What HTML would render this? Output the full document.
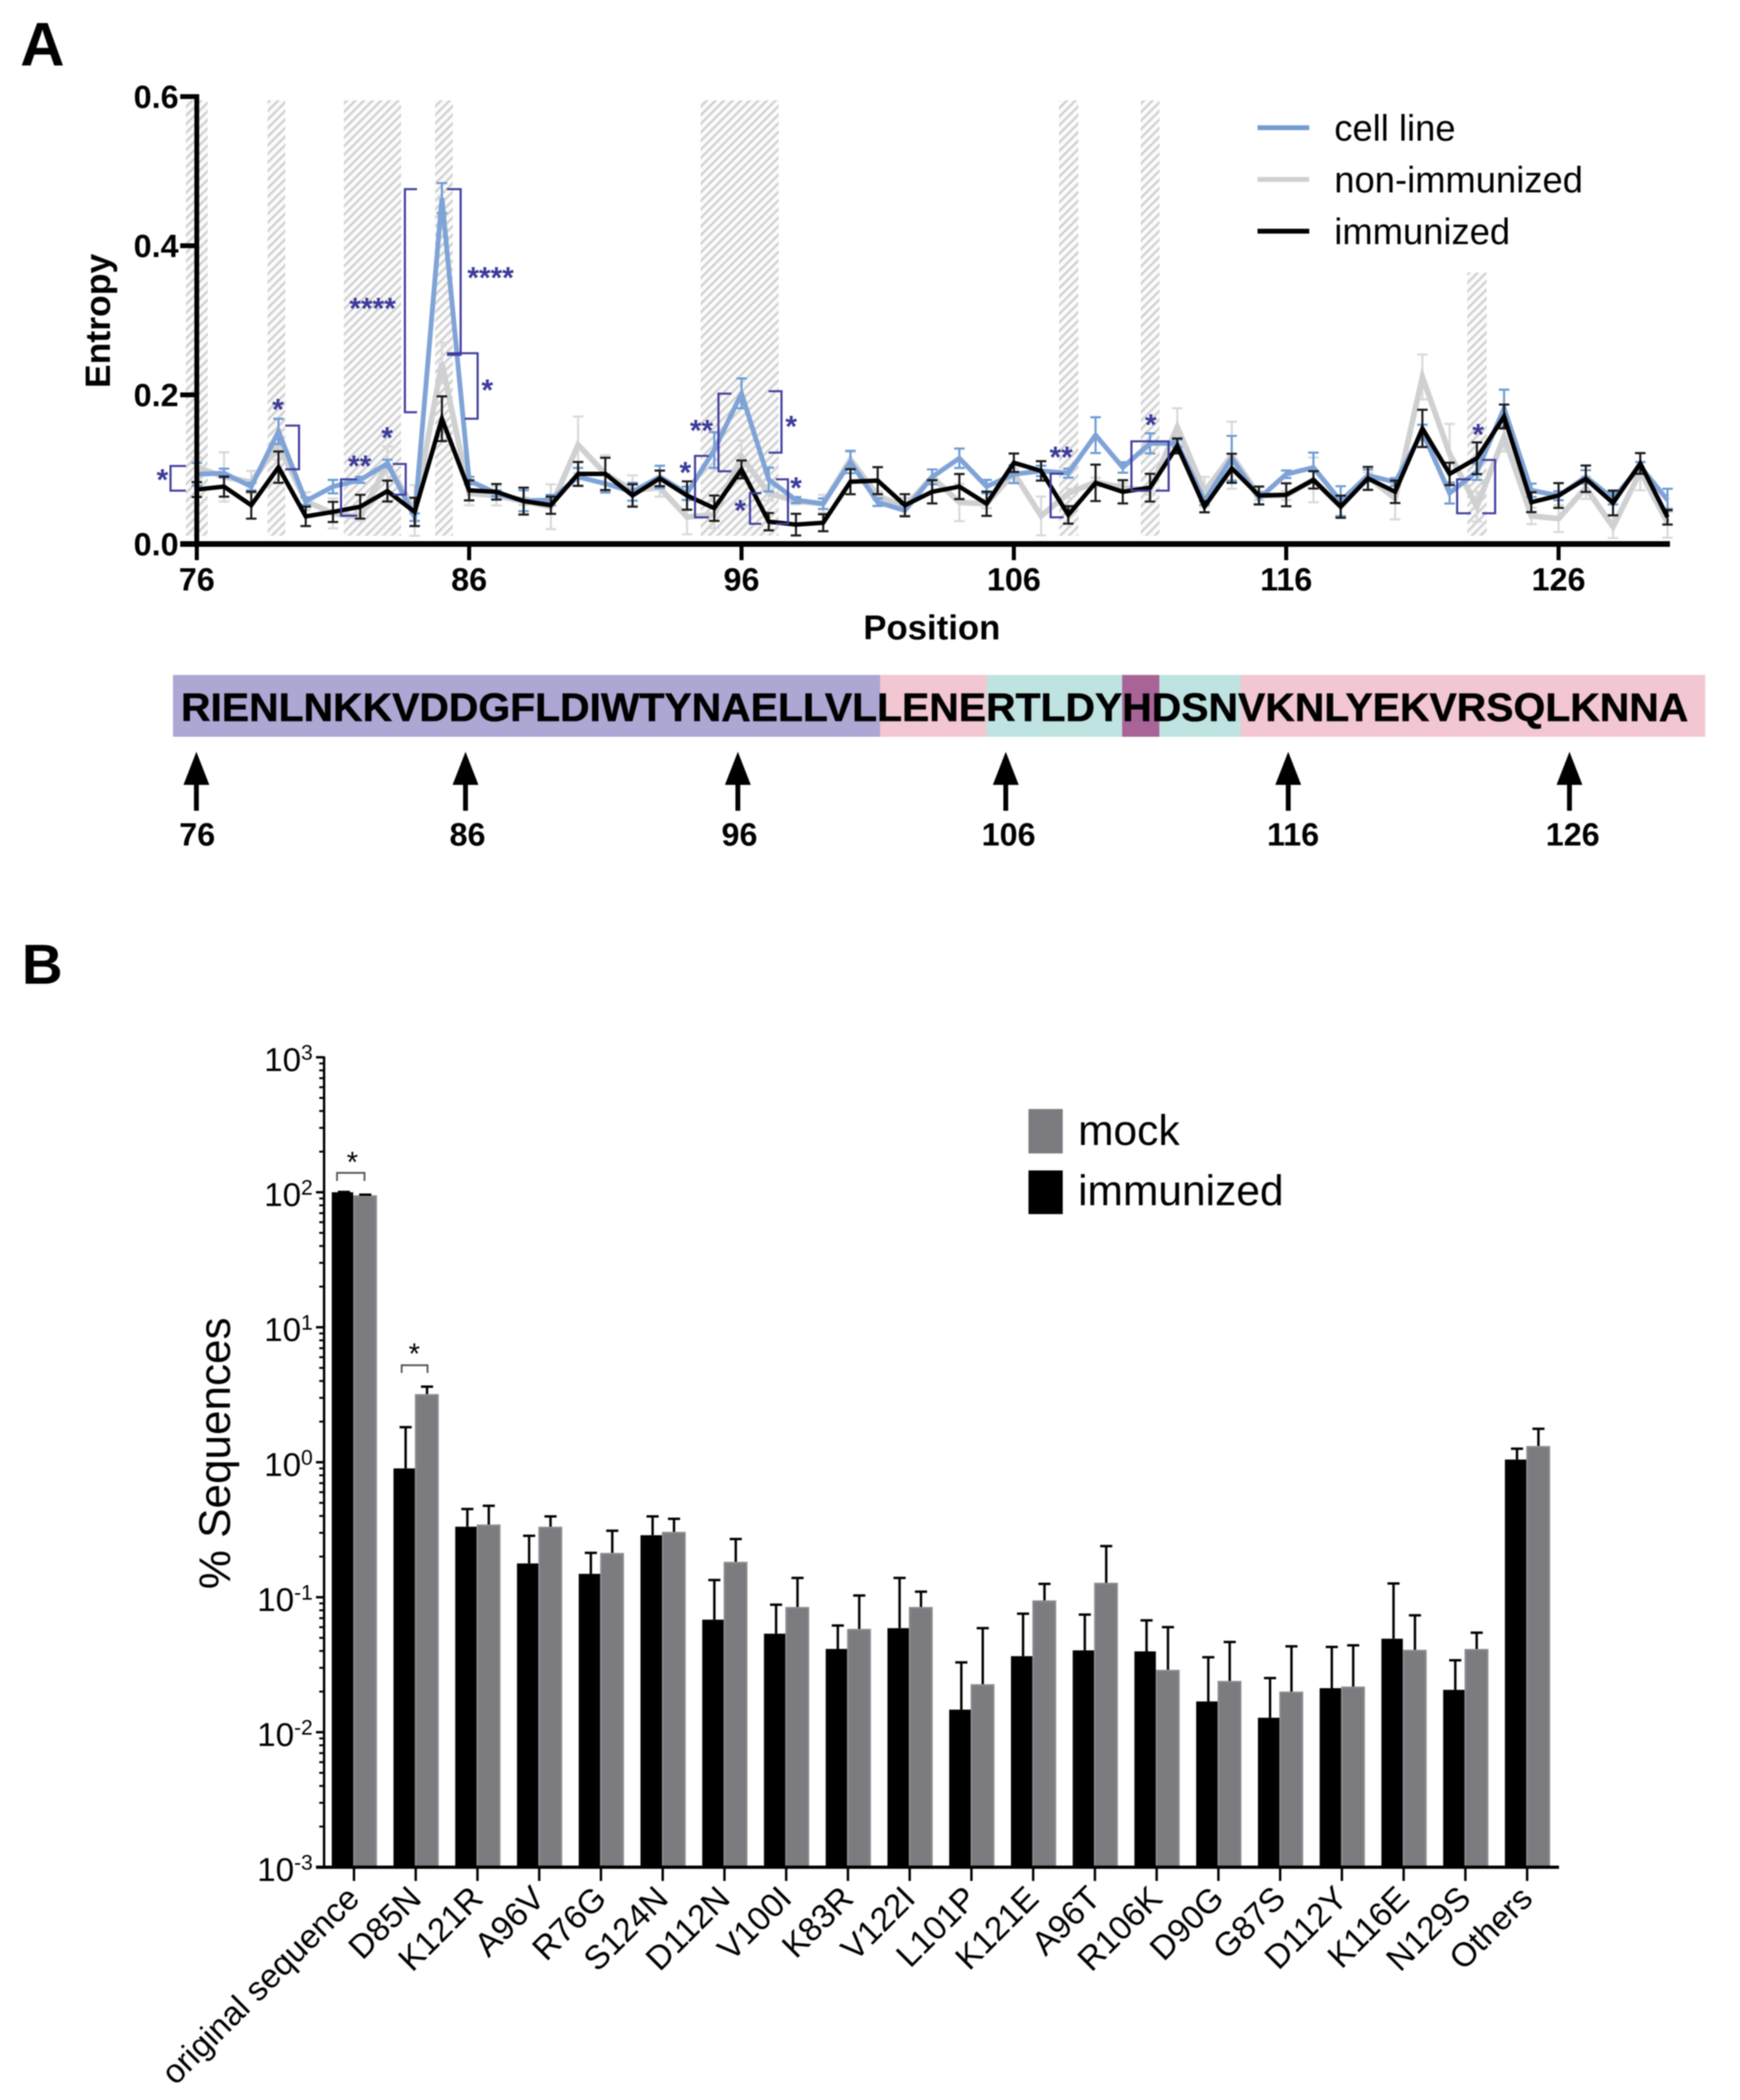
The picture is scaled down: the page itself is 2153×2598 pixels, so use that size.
<!DOCTYPE html>
<html lang="en">
<head>
<meta charset="utf-8">
<title>Entropy and sequence variants</title>
<style>
html,body{margin:0;padding:0;background:#fff;}
#figure{display:block;width:2153px;height:2598px;filter:blur(0.8px);font-family:"Liberation Sans",sans-serif;}
.stars{font:bold 37px "Liberation Sans",sans-serif;fill:#3b3a98;text-anchor:middle;transform:translateY(-3px);}
.bk{fill:none;stroke:#3f3c9c;stroke-width:2.6;}
.arrow-label{font-size:40px;font-weight:bold;text-anchor:middle;}
</style>
</head>
<body>
<svg id="figure" xmlns="http://www.w3.org/2000/svg" width="2153" height="2598" viewBox="0 0 2153 2598">
  <defs>
    <pattern id="hatch" patternUnits="userSpaceOnUse" width="7.5" height="7.5" patternTransform="rotate(45)">
      <rect width="7.5" height="7.5" fill="#fbfbfb"></rect>
      <rect width="2.8" height="7.5" fill="#d0d0d0"></rect>
    </pattern>
  </defs>
  <rect width="2153" height="2598" fill="#fff"></rect>
  <text x="25" y="81" font-size="76" font-weight="bold">A</text>
  <text x="27" y="1217" font-size="70" font-weight="bold">B</text>

  <g id="bands"></g>
  <g id="entropy"></g>

  <g>
    <path class="bk" d="M230 576.5H211V607H230"></path>
    <text class="stars" x="201" y="609">*</text>
    <path class="bk" d="M353 526.5H370V580.6H353"></path>
    <text class="stars" x="344" y="522">*</text>
    <path class="bk" d="M442 593H422V638H442"></path>
    <text class="stars" x="445" y="592">**</text>
    <path class="bk" d="M486 574H502V612H486"></path>
    <text class="stars" x="479" y="557">*</text>
    <path class="bk" d="M516 234H501V510H516"></path>
    <text class="stars" x="461" y="397">****</text>
    <path class="bk" d="M553 234H570V439H553"></path>
    <text class="stars" x="607" y="359">****</text>
    <path class="bk" d="M553 437H591V518H575"></path>
    <text class="stars" x="603" y="498">*</text>
    <path class="bk" d="M877 564H860V640H877"></path>
    <text class="stars" x="848" y="600">*</text>
    <path class="bk" d="M905 487H889V583H905"></path>
    <text class="stars" x="868" y="548">**</text>
    <path class="bk" d="M951 484H967V560H951"></path>
    <text class="stars" x="979" y="543">*</text>
    <path class="bk" d="M942 610H928V648H942"></path>
    <text class="stars" x="916" y="647">*</text>
    <path class="bk" d="M960 593H975V648H960"></path>
    <text class="stars" x="985" y="619">*</text>
    <path class="bk" d="M1316 586H1300V640H1316"></path>
    <text class="stars" x="1313" y="581">**</text>
    <path class="bk" d="M1423 607H1400V546H1446V607H1430"></path>
    <text class="stars" x="1424" y="541">*</text>
    <path class="bk" d="M1820 593H1803V635H1820"></path>
    <path class="bk" d="M1834 569H1850V635H1834"></path>
    <text class="stars" x="1829" y="553">*</text>
  </g>

  <g font-size="45">
    <rect x="1556" y="155" width="64" height="6" fill="#739bd3"></rect>
    <text x="1651" y="174">cell line</text>
    <rect x="1556" y="219" width="64" height="6" fill="#cfd0d2"></rect>
    <text x="1651" y="238">non-immunized</text>
    <rect x="1556" y="283" width="64" height="6" fill="#000"></rect>
    <text x="1651" y="302">immunized</text>
  </g>

  <text x="136" y="397" font-size="44" font-weight="bold" text-anchor="middle" transform="rotate(-90 136 397)">Entropy</text>
  <text x="1153" y="791" font-size="43" font-weight="bold" text-anchor="middle">Position</text>

  <g>
    <rect x="214" y="835" width="875" height="76.5" fill="#ada7d3"></rect>
    <rect x="1089" y="835" width="132" height="76.5" fill="#f2c7d2"></rect>
    <rect x="1221" y="835" width="167.5" height="76.5" fill="#bfe3e0"></rect>
    <rect x="1388.5" y="835" width="46" height="76.5" fill="#a96497"></rect>
    <rect x="1434.5" y="835" width="100.5" height="76.5" fill="#bfe3e0"></rect>
    <rect x="1535" y="835" width="575" height="76.5" fill="#f2c7d2"></rect>
    <text x="224" y="892" font-size="49" font-weight="bold" stroke="#000" stroke-width="0.6" textLength="1865" lengthAdjust="spacingAndGlyphs">RIENLNKKVDDGFLDIWTYNAELLVLLENERTLDYHDSNVKNLYEKVRSQLKNNA</text>
  </g>

  <g>
    <path d="M243 930L259 971H246V1003H240V971H227Z"></path>
    <text class="arrow-label" x="244" y="1046">76</text>
    <path d="M576 930L592 971H579V1003H573V971H560Z"></path>
    <text class="arrow-label" x="578.5" y="1046">86</text>
    <path d="M913 930L929 971H916V1003H910V971H897Z"></path>
    <text class="arrow-label" x="915" y="1046">96</text>
    <path d="M1244.5 930L1260.5 971H1247.5V1003H1241.5V971H1228.5Z"></path>
    <text class="arrow-label" x="1248" y="1046">106</text>
    <path d="M1594 930L1610 971H1597V1003H1591V971H1578Z"></path>
    <text class="arrow-label" x="1600" y="1046">116</text>
    <path d="M1942 930L1958 971H1945V1003H1939V971H1926Z"></path>
    <text class="arrow-label" x="1946" y="1046">126</text>
  </g>

  <g id="bars"></g>

  <g>
    <path d="M417 1461V1451H451V1461" fill="none" stroke="#555" stroke-width="2.2"></path>
    <text x="436" y="1450" font-size="36" text-anchor="middle">*</text>
    <path d="M497 1698.5V1689H529V1698.5" fill="none" stroke="#555" stroke-width="2.2"></path>
    <text x="512.6" y="1687" font-size="36" text-anchor="middle">*</text>
  </g>

  <g font-size="52.6">
    <rect x="1272.6" y="1372" width="42.4" height="55" fill="#7c7b80"></rect>
    <text x="1334" y="1416.5">mock</text>
    <rect x="1272.6" y="1448" width="42.4" height="54" fill="#000"></rect>
    <text x="1334" y="1491">immunized</text>
  </g>
  <text x="284.5" y="1798" font-size="54.5" text-anchor="middle" transform="rotate(-90 284.5 1798)">% Sequences</text>
</svg>
<script>
// ---------- Panel A data ----------
const positions = [76,77,78,79,80,81,82,83,84,85,86,87,88,89,90,91,92,93,94,95,96,97,98,99,100,101,102,103,104,105,106,107,108,109,110,111,112,113,114,115,116,117,118,119,120,121,122,123,124,125,126,127,128,129,130];
const immunized = [.073,.077,.052,.103,.037,.043,.05,.071,.043,.168,.072,.07,.0575,.052,.094,.094,.065,.088,.065,.048,.1,.03,.026,.0285,.0835,.085,.052,.07,.077,.054,.109,.098,.039,.082,.07,.0755,.1315,.05,.1015,.065,.066,.086,.05,.088,.07,.155,.094,.115,.171,.056,.065,.0875,.055,.108,.036];
const immunizedErr = [.01,.0135,.018,.021,.013,.0135,.016,.014,.019,.03,.0135,.0105,.018,.0115,.016,.0217,.015,.0104,.019,.017,.012,.0116,.0145,.0114,.0168,.0181,.0148,.0156,.0168,.0163,.0123,.013,.0117,.0244,.0156,.0186,.01,.0075,.0195,.012,.0154,.0116,.0148,.0154,.015,.025,.015,.0213,.016,.0133,.0166,.0177,.0166,.0139,.0099];
const cellLine = [.0936,.095,.077,.151,.0575,.077,.086,.108,.036,.464,.085,.068,.058,.059,.09,.081,.07,.09,.068,.126,.202,.0864,.059,.054,.11,.056,.045,.09,.115,.077,.0936,.098,.095,.146,.1026,.135,.135,.0575,.115,.061,.0936,.1026,.0575,.092,.083,.15,.0683,.097,.182,.072,.0647,.09,.061,.104,.059];
const cellLineErr = [.015,.006,.005,.017,.005,.009,.004,.005,.005,.02,.005,.004,.014,.007,.012,.012,.012,.015,.009,.024,.02,.016,.004,.007,.015,.005,.008,.01,.013,.009,.012,.007,.006,.024,.007,.0135,.005,.005,.03,.008,.005,.02,.02,.008,.005,.01,.014,.011,.025,.009,.006,.009,.008,.006,.015];
const nonImmunized = [.103,.09,.083,.133,.0575,.041,.036,.108,.045,.243,.068,.0647,.0575,.05,.133,.094,.072,.0755,.036,.0394,.117,.068,.0575,.054,.1135,.0647,.05,.09,.0557,.054,.095,.0376,.068,.083,.0755,.072,.157,.07,.119,.0647,.065,.086,.05,.09,.061,.224,.121,.05,.144,.0376,.034,.0755,.023,.097,.0285];
const nonImmunizedErr = [.013,.033,.015,.02,.012,.02,.005,.023,.034,.027,.016,.013,.005,.03,.038,.025,.02,.012,.023,.018,.022,.01,.004,.012,.01,.006,.012,.01,.025,.006,.006,.026,.006,.006,.006,.006,.025,.02,.045,.006,.006,.03,.014,.006,.028,.03,.04,.02,.02,.011,.018,.015,.015,.025,.02];
const entropyTicks = [0,0.2,0.4,0.6];
const entropyTickLabels = ["0.0","0.2","0.4","0.6"];
const positionTicks = [76,86,96,106,116,126];
const bandStarts = [75.6,78.6,81.4,84.75,94.5,107.66,110.66,122.65];
const bandEnds = [76.4,79.25,83.5,85.4,97.36,108.37,111.35,123.36];
const bandTops = [.595,.595,.595,.595,.595,.595,.595,.364];

// ---------- Panel B data ----------
const mutations = ["original sequence","D85N","K121R","A96V","R76G","S124N","D112N","V100I","K83R","V122I","L101P","K121E","A96T","R106K","D90G","G87S","D112Y","K116E","N129S","Others"];
const immunizedPct = [100,.9,.333,.178,.149,.288,.0682,.0537,.0414,.059,.0147,.0366,.0404,.0397,.0169,.0128,.0212,.0493,.0206,1.047];
const immunizedUpper = [100.5,1.82,.45,.285,.213,.397,.134,.088,.0617,.139,.0329,.0755,.0743,.0674,.0359,.0252,.0428,.1265,.0341,1.26];
const mockPct = [95,3.2,.346,.333,.213,.305,.183,.0847,.0583,.0847,.0227,.0948,.128,.029,.024,.02,.0218,.0408,.0414,1.32];
const mockUpper = [96,3.63,.476,.397,.311,.381,.27,.139,.103,.11,.059,.1256,.239,.06,.0466,.0433,.044,.0734,.0546,1.77];
const decadeExponents = [3,2,1,0,-1,-2,-3];

const NS = "http://www.w3.org/2000/svg";
function make(parent, tag, attrs, text) {
  const el = document.createElementNS(NS, tag);
  for (const k in attrs) el.setAttribute(k, attrs[k]);
  if (text !== undefined) el.textContent = text;
  parent.appendChild(el);
  return el;
}
const xPos = p => 243.5 + (p - 76) * 33.7;
const yEnt = v => 673 - 922.5 * v;
const yLog = v => 2310 - 167 * (Math.log10(v) + 3);
const xCat = i => 438 + 76.4 * i;

// ---------- hatched bands ----------
const bandsG = document.getElementById("bands");
bandStarts.forEach((s, i) => {
  const el = make(bandsG, "rect", {x: xPos(s), y: yEnt(bandTops[i]), width: xPos(bandEnds[i]) - xPos(s), height: yEnt(0.011) - yEnt(bandTops[i]), fill: "url(#hatch)"});
  
  
});

// ---------- entropy series ----------
const entG = document.getElementById("entropy");
function drawSeries(name, values, errs, lineColor, errColor, lineWidth) {
  const g = make(entG, "g", {});
  
  
  values.forEach((v, i) => {
    const x = xPos(positions[i]);
    const top = yEnt(v + errs[i]);
    const bot = yEnt(Math.max(v - errs[i], 0));
    const e = make(g, "path", {d: "M" + (x - 6.5) + " " + top + "H" + (x + 6.5) + "M" + x + " " + top + "V" + bot + "M" + (x - 6.5) + " " + bot + "H" + (x + 6.5), fill: "none", stroke: errColor, "stroke-width": 2.6});
    
    
  });
  const pts = values.map((v, i) => xPos(positions[i]) + "," + yEnt(v)).join(" ");
  const line = make(g, "polyline", {points: pts, fill: "none", stroke: lineColor, "stroke-width": lineWidth, "stroke-linejoin": "miter"});
  
  
}
drawSeries("non-immunized", nonImmunized, nonImmunizedErr, "#cfd0d2", "#d8d9da", 7);
drawSeries("cell-line", cellLine, cellLineErr, "#7fa3d6", "#6a9bd6", 6);
drawSeries("immunized", immunized, immunizedErr, "#000", "#1a1a1a", 5.5);

// ---------- entropy axes ----------
const yAxisA = make(entG, "rect", {x: 240.5, y: yEnt(0.6) - 3, width: 6, height: yEnt(0) - yEnt(0.6) + 6, fill: "#000"});


const xAxisA = make(entG, "rect", {x: 223, y: yEnt(0) - 3.5, width: xPos(130) + 3 - 223, height: 7, fill: "#000"});


entropyTicks.forEach((t, i) => {
  const tick = make(entG, "rect", {x: 223, y: yEnt(t) - 3, width: 20, height: 6, fill: "#000"});
  
  
  const lab = make(entG, "text", {x: 221, y: yEnt(t) + 14, "font-size": 40, "font-weight": "bold", "text-anchor": "end"}, entropyTickLabels[i]);
  
  
});
positionTicks.forEach(p => {
  const tick = make(entG, "rect", {x: xPos(p) - 2.5, y: yEnt(0), width: 5, height: 20, fill: "#000"});
  
  
  const lab = make(entG, "text", {x: xPos(p), y: 730.5, "font-size": 40, "font-weight": "bold", "text-anchor": "middle"}, String(p));
  
  
});

// ---------- bar chart ----------
const barsG = document.getElementById("bars");
mutations.forEach((m, i) => {
  const x = xCat(i);
  const b = make(barsG, "rect", {x: x - 27.5, y: yLog(immunizedPct[i]), width: 26.5, height: 2310 - yLog(immunizedPct[i]), fill: "#000"});
  
  
  const g = make(barsG, "rect", {x: x, y: yLog(mockPct[i]) + 1, width: 27.5, height: 2310 - yLog(mockPct[i]) - 1, fill: "#7c7b80", stroke: "#8c8c90", "stroke-width": 2});
  
  
  const e1 = make(barsG, "path", {d: "M" + (x - 12.5) + " " + yLog(immunizedPct[i]) + "V" + yLog(immunizedUpper[i]) + "M" + (x - 20) + " " + yLog(immunizedUpper[i]) + "H" + (x - 5), fill: "none", stroke: "#000", "stroke-width": 3});
  
  
  const e2 = make(barsG, "path", {d: "M" + (x + 14) + " " + yLog(mockPct[i]) + "V" + yLog(mockUpper[i]) + "M" + (x + 6.5) + " " + yLog(mockUpper[i]) + "H" + (x + 21.5), fill: "none", stroke: "#000", "stroke-width": 3});
  
  
  const tk = make(barsG, "rect", {x: x - 1.5, y: 2310, width: 3, height: 17, fill: "#000"});
  
  
  const ax = x + 9, ay = 2351;
  const lab = make(barsG, "text", {x: ax, y: ay, "font-size": 41.5, "text-anchor": "end", transform: "rotate(-45 " + ax + " " + ay + ")"}, m);
  
  
});
const axY = make(barsG, "rect", {x: 399.5, y: yLog(1000) - 1, width: 3, height: 2312 - yLog(1000), fill: "#000"});


const axX = make(barsG, "rect", {x: 391, y: 2308, width: 1538, height: 4, fill: "#000"});


decadeExponents.forEach(exp => {
  const y = yLog(Math.pow(10, exp));
  const tk = make(barsG, "rect", {x: 391, y: y - 1.5, width: 10, height: 3, fill: "#000"});
  
  
  const lab = make(barsG, "text", {x: 387, y: y + 17, "font-size": 41, "text-anchor": "end"});
  
  
  make(lab, "tspan", {}, "10");
  make(lab, "tspan", {dy: -14, "font-size": 26}, String(exp));
  if (exp < 3) {
    for (let m = 2; m <= 9; m++) {
      const my = yLog(m * Math.pow(10, exp));
      const mt = make(barsG, "rect", {x: 395, y: my - 1.2, width: 6, height: 2.4, fill: "#000"});
      
      
    }
  }
});
</script>
</body>
</html>
